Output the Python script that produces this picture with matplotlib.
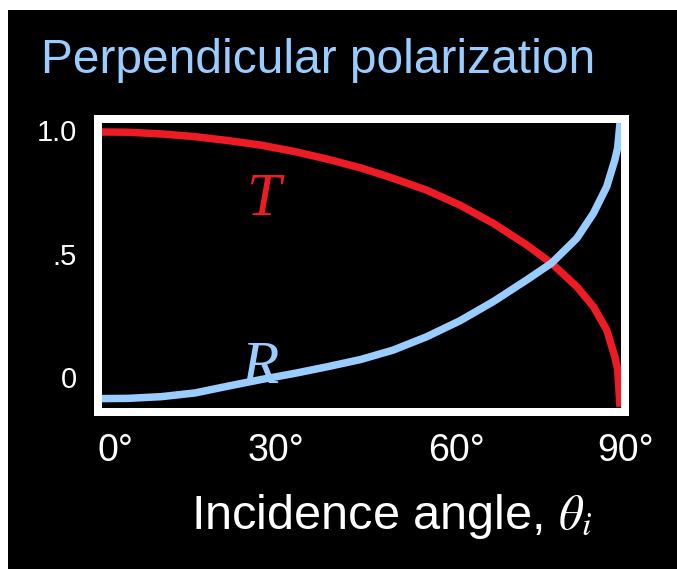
import matplotlib
matplotlib.use("Agg")
import matplotlib.pyplot as plt
from matplotlib.patches import Rectangle
from matplotlib.transforms import ScaledTranslation

plt.rcParams['font.family'] = ['Liberation Sans', 'DejaVu Sans']
plt.rcParams['mathtext.fontset'] = 'stix'

# ---- data ----
angles = [0, 4.6, 10.4, 16.2, 22.0, 27.8, 33.6, 39.3, 45.0, 50.6,
          56.4, 62.2, 68.0, 73.8, 78.1, 82.5, 85.4, 87.7, 89.1, 89.6, 90.0]
T_vals = [0.994, 0.993, 0.986, 0.975, 0.959, 0.940, 0.914, 0.883, 0.848, 0.806,
          0.758, 0.697, 0.623, 0.535, 0.461, 0.366, 0.284, 0.190, 0.081, 0.030, -0.122]
R_vals = [-0.089, -0.088, -0.081, -0.066, -0.038, -0.011, 0.014, 0.041, 0.070, 0.108,
          0.162, 0.227, 0.305, 0.393, 0.461, 0.562, 0.664, 0.772, 0.880, 0.930, 1.030]
x_ticks = [0, 30, 60, 90]
x_tick_labels = ['0°', '30°', '60°', '90°']
y_ticks = [0, 0.5, 1.0]
y_tick_labels = ['0', '.5', '1.0']

RED = '#ED1C24'
BLUE = '#99CCFF'
W, H = 677, 569

fig = plt.figure(figsize=(W / 100, H / 100), dpi=100, facecolor='white')
fig.patches.append(Rectangle((8 / W, 0), 1, (H - 10) / H, transform=fig.transFigure,
                             facecolor='black', edgecolor='none', zorder=-10))

ax = fig.add_axes([97.5 / W, 1 - 412 / H, (625 - 97.5) / W, (412 - 119) / H])
ax.set_zorder(1)
ax.set_facecolor('black')
ax.plot(angles, T_vals, color=RED, lw=5.4, solid_capstyle='butt',
        solid_joinstyle='round', zorder=2)
ax.plot(angles, R_vals, color=BLUE, lw=5.4, solid_capstyle='butt',
        solid_joinstyle='round', zorder=2)
ax.set_xlim(-0.73, 90.87)
ax.set_ylim(-0.1434, 1.0467)

for s in ax.spines.values():
    s.set_color('white')
    s.set_linewidth(5.76)
    s.set_zorder(3)

ax.set_yticks(y_ticks)
ax.set_yticklabels(y_tick_labels)
ax.set_xticks(x_ticks)
ax.set_xticklabels(x_tick_labels)
ax.tick_params(axis='y', length=0, pad=14.8, labelsize=21, labelcolor='white')
ax.tick_params(axis='x', length=0, pad=15, labelsize=27, labelcolor='white')

offsets = [14, 1, 9, 5.5]
for lab, dx in zip(ax.get_xticklabels(), offsets):
    lab.set_transform(lab.get_transform() + ScaledTranslation(dx / 100, 0, fig.dpi_scale_trans))

ax.text(25.2, 0.657, 'T', color=RED, fontsize=44, family='Liberation Serif',
        style='italic', ha='left', va='baseline', zorder=4)
ax.text(24.3, -0.026, 'R', color=BLUE, fontsize=44, family='Liberation Serif',
        style='italic', ha='left', va='baseline', zorder=4)

fig.text(41 / W, 1 - 73.3 / H, 'Perpendicular polarization', color=BLUE,
         fontsize=34.5, ha='left', va='baseline')
fig.text(190.7 / W, 1 - 529.3 / H, r'Incidence angle, $\theta_i$', color='white',
         fontsize=35, ha='left', va='baseline')

fig.savefig('out.png', dpi=100, facecolor='white')
